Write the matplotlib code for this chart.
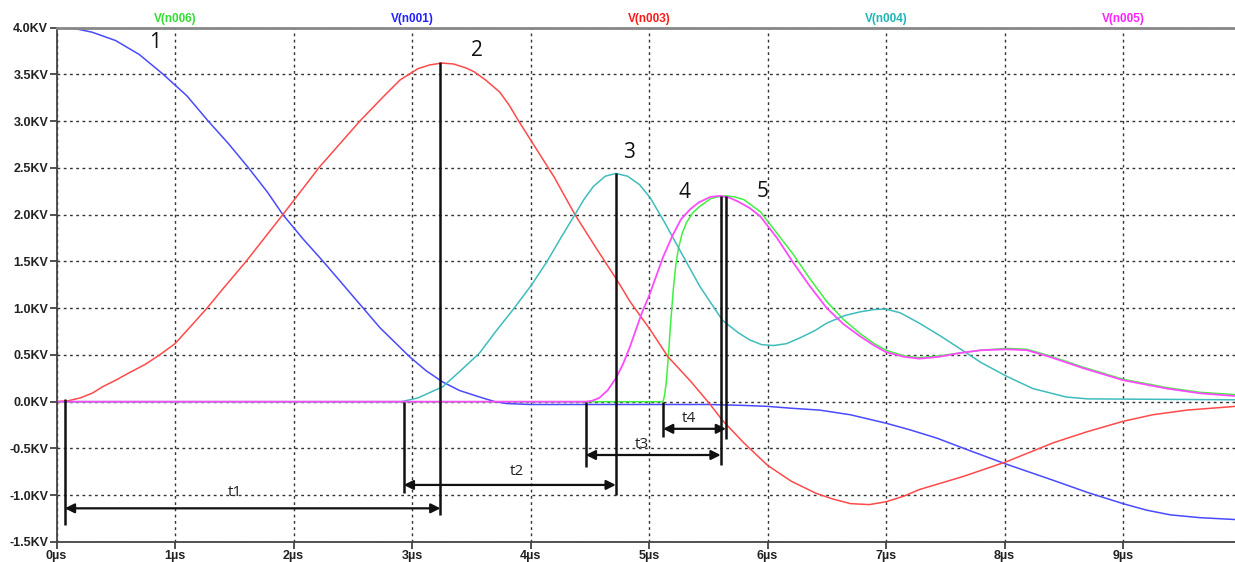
import matplotlib
matplotlib.use("Agg")
import matplotlib.pyplot as plt

# traces (time in us, voltage in kV)
t_n001 = [0, 0.15, 0.3, 0.5, 0.7, 0.9, 1.1, 1.28, 1.45, 1.62, 1.78, 1.91, 2.08, 2.25, 2.5, 2.73,
          2.98, 3.12, 3.26, 3.4, 3.57, 3.7, 3.8, 4.0, 5.0, 5.5, 5.8, 6.0, 6.2, 6.44, 6.7, 7.0, 7.2,
          7.43, 7.7, 8.02, 8.41, 8.7, 9.0, 9.2, 9.4, 9.65, 9.95]
v_n001 = [4.0, 3.99, 3.95, 3.86, 3.71, 3.5, 3.27, 3.0, 2.76, 2.5, 2.24, 2.0, 1.74, 1.5, 1.13, 0.79,
          0.48, 0.33, 0.21, 0.12, 0.05, 0.0, -0.02, -0.03, -0.03, -0.03, -0.04, -0.05, -0.07, -0.09,
          -0.14, -0.23, -0.3, -0.39, -0.52, -0.67, -0.84, -0.97, -1.09, -1.16, -1.21, -1.24, -1.26]

t_n003 = [0, 0.1, 0.2, 0.3, 0.39, 0.5, 0.6, 0.75, 0.87, 1.0, 1.15, 1.27, 1.4, 1.6, 1.91, 2.22,
          2.56, 2.75, 2.9, 3.05, 3.15, 3.25, 3.35, 3.45, 3.52, 3.62, 3.74, 3.82, 3.9, 4.0, 4.2,
          4.375, 4.55, 4.73, 4.84, 5.01, 5.16, 5.35, 5.51, 5.62, 5.8, 6.0, 6.2, 6.41, 6.55, 6.7,
          6.86, 7.0, 7.15, 7.28, 7.65, 8.02, 8.41, 8.7, 9.0, 9.25, 9.54, 9.95]
v_n003 = [0, 0.01, 0.04, 0.09, 0.16, 0.23, 0.3, 0.4, 0.5, 0.62, 0.83, 1.0, 1.2, 1.5, 2.0, 2.51,
          3.0, 3.25, 3.44, 3.56, 3.6, 3.62, 3.61, 3.57, 3.53, 3.44, 3.31, 3.17, 3.0, 2.8, 2.4,
          2.0, 1.65, 1.30, 1.07, 0.77, 0.48, 0.22, -0.02, -0.2, -0.44, -0.68, -0.85, -0.98, -1.04,
          -1.09, -1.1, -1.07, -1.01, -0.94, -0.80, -0.64, -0.44, -0.32, -0.21, -0.14, -0.09, -0.05]

t_n004 = [0, 2.91, 3.05, 3.26, 3.4, 3.57, 3.7, 3.85, 4.01, 4.14, 4.26, 4.375, 4.45, 4.53, 4.63,
          4.72, 4.82, 4.92, 5.01, 5.13, 5.26, 5.43, 5.62, 5.75, 5.85, 5.95, 6.05, 6.16, 6.27, 6.4,
          6.5, 6.65, 6.78, 6.9, 7.0, 7.12, 7.28, 7.45, 7.62, 7.8, 8.02, 8.24, 8.52, 8.7, 9.95]
v_n004 = [0, 0, 0.04, 0.16, 0.32, 0.52, 0.74, 0.98, 1.25, 1.5, 1.76, 2.0, 2.16, 2.3, 2.41,
          2.44, 2.41, 2.32, 2.18, 1.92, 1.62, 1.23, 0.87, 0.74, 0.66, 0.61, 0.60, 0.62, 0.68, 0.76,
          0.84, 0.92, 0.96, 0.985, 0.99, 0.95, 0.84, 0.71, 0.57, 0.42, 0.27, 0.14, 0.05, 0.03, 0.02]

t_n005 = [0, 4.466, 4.52, 4.58, 4.65, 4.72, 4.78, 4.84, 4.94, 5.0, 5.12, 5.2, 5.27, 5.35, 5.42,
          5.52, 5.6, 5.68, 5.75, 5.85, 5.94, 6.08, 6.22, 6.36, 6.5, 6.64, 6.78, 6.9, 7.0, 7.15,
          7.28, 7.45, 7.62, 7.8, 8.02, 8.19, 8.38, 8.66, 9.0, 9.37, 9.65, 9.95]
v_n005 = [0, 0, 0.01, 0.04, 0.12, 0.25, 0.4, 0.59, 0.95, 1.13, 1.55, 1.78, 1.95, 2.06, 2.13,
          2.19, 2.2, 2.18, 2.14, 2.07, 1.98, 1.75, 1.48, 1.23, 1.0, 0.83, 0.70, 0.6, 0.53, 0.48,
          0.46, 0.48, 0.52, 0.55, 0.56, 0.55, 0.48, 0.36, 0.23, 0.14, 0.09, 0.06]

t_n006 = [0, 5.118, 5.13, 5.145, 5.163, 5.18, 5.205, 5.225, 5.247, 5.28, 5.318, 5.37, 5.43, 5.52,
          5.58, 5.65, 5.72, 5.8, 5.94, 6.08, 6.22, 6.36, 6.5, 6.64, 6.78, 6.9, 7.0, 7.15, 7.28,
          7.45, 7.62, 7.8, 8.02, 8.19, 8.38, 8.66, 9.0, 9.37, 9.65, 9.95]
v_n006 = [0, 0, 0.06, 0.2, 0.48, 0.8, 1.2, 1.45, 1.63, 1.8, 1.92, 2.02, 2.09, 2.17,
          2.19, 2.2, 2.19, 2.16, 2.03, 1.8, 1.57, 1.31, 1.07, 0.88, 0.73, 0.62, 0.55, 0.49, 0.47,
          0.49, 0.52, 0.55, 0.57, 0.56, 0.49, 0.37, 0.24, 0.15, 0.1, 0.075]

trace_names = ["V(n006)", "V(n001)", "V(n003)", "V(n004)", "V(n005)"]
name_pos = [1, 3, 5, 7, 9]
name_colors = ["#33dd33", "#2222ff", "#ff1a1a", "#1fb5b5", "#ff22ff"]

# black marker lines: time, top, bottom
mark_t = [0.07, 3.24, 2.93, 4.72, 4.466, 5.605, 5.65, 5.118]
mark_top = [0.03, 3.63, 0.0, 2.44, 0.0, 2.2, 2.2, 0.0]
mark_bot = [-1.32, -1.21, -0.98, -1.0, -0.70, -0.68, -0.40, -0.38]

# dimension arrows: start, end, level, label
dim_from = [0.07, 2.93, 4.466, 5.118]
dim_to = [3.24, 4.72, 5.605, 5.65]
dim_y = [-1.14, -0.89, -0.57, -0.29]
dim_labels = ["t1", "t2", "t3", "t4"]
dim_label_x = [1.506, 3.886, 4.94, 5.34]
dim_label_y = [-0.97, -0.75, -0.46, -0.18]

peak_labels = ["1", "2", "3", "4", "5"]
peak_x = [0.83, 3.55, 4.83, 5.30, 5.96]
peak_y = [3.84, 3.75, 2.66, 2.24, 2.25]

yticks = [-1.5, -1.0, -0.5, 0.0, 0.5, 1.0, 1.5, 2.0, 2.5, 3.0, 3.5, 4.0]
xticks = list(range(10))

fig = plt.figure(figsize=(12.35, 5.62), dpi=100)
ax = fig.add_axes([56.5 / 1235, 20 / 562, 1 - 56.5 / 1235, 514.5 / 562])

ax.plot(t_n006, v_n006, color="#40f040", lw=1.1)
ax.plot(t_n001, v_n001, color="#4a4aff", lw=1.1)
ax.plot(t_n003, v_n003, color="#ff4a4a", lw=1.1)
ax.plot(t_n004, v_n004, color="#3fbcbc", lw=1.1)
ax.plot(t_n005, v_n005, color="#ff4aff", lw=1.3)

for x, y0, y1 in zip(mark_t, mark_top, mark_bot):
    ax.plot([x, x], [y0, y1], color="#111111", lw=1.8, solid_capstyle="butt")

for x0, x1, y in zip(dim_from, dim_to, dim_y):
    ax.annotate("", xy=(x1, y), xytext=(x0, y),
                arrowprops=dict(arrowstyle="<|-|>", color="#111111", lw=1.6,
                                shrinkA=0, shrinkB=0, mutation_scale=14))
for s, x, y in zip(dim_labels, dim_label_x, dim_label_y):
    ax.text(x, y, s, fontsize=11, family="Open Sans", ha="center", va="center", color="#222222")

for s, x, y in zip(peak_labels, peak_x, peak_y):
    ax.text(x, y, s, fontsize=15, family="Open Sans", ha="center", va="center", color="#111111")

for s, x, c in zip(trace_names, name_pos, name_colors):
    ax.text(x, 1.005, s, transform=ax.get_xaxis_transform(), ha="center", va="bottom",
            fontsize=8.5, fontweight="bold", family="Liberation Sans", color=c)

ax.set_xlim(0, 9.945)
ax.set_ylim(-1.5, 4.0)
ax.set_yticks(yticks)
ax.set_yticklabels([f"{v:.1f}KV" for v in yticks])
ax.set_xticks(xticks)
ax.set_xticklabels([f"{v}\u00b5s" for v in xticks])
for lab in ax.get_xticklabels() + ax.get_yticklabels():
    lab.set_family("Liberation Sans")
    lab.set_fontweight("bold")
    lab.set_fontsize(9)
    lab.set_color("#222222")
ax.tick_params(axis="both", direction="out", length=5, width=1.2, color="#333333", pad=1)

ax.grid(True, color="#333333", lw=1.0, linestyle=(0, (2, 2.5)))
ax.set_axisbelow(True)

ax.spines["right"].set_visible(False)
ax.spines["left"].set_color("#444444")
ax.spines["left"].set_linewidth(1.3)
ax.spines["bottom"].set_color("#444444")
ax.spines["bottom"].set_linewidth(1.3)
ax.spines["top"].set_color("#888888")
ax.spines["top"].set_linewidth(2.0)

fig.savefig("out.png", dpi=100)
